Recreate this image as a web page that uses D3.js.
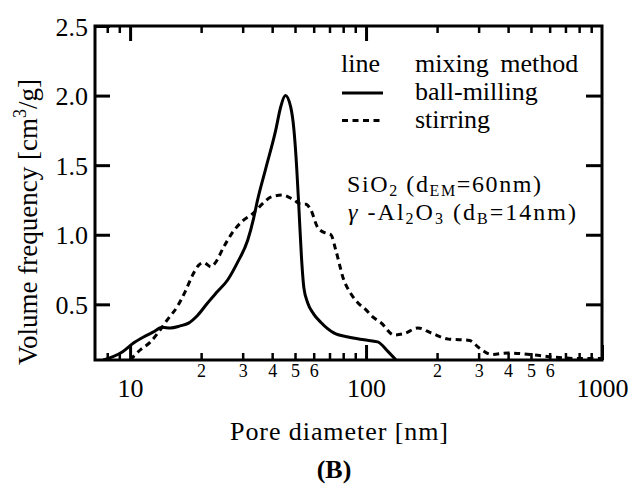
<!DOCTYPE html>
<html>
<head>
<meta charset="utf-8">
<script src="https://cdn.jsdelivr.net/npm/d3@7"></script>
<style>
  html, body { margin: 0; padding: 0; background: #fff; }
  svg { display: block; }
  text { font-family: "Liberation Serif", "Times New Roman", serif; fill: #000; }
</style>
</head>
<body>
<div id="chart"></div>
<script>
// ---- data ----
const ballMilling = [
  [7.7,0.10],[9.3,0.16],[10.3,0.22],[11.4,0.265],[12.5,0.30],[13.7,0.335],[14.8,0.33],
  [16.3,0.345],[17.7,0.365],[19.3,0.42],[21.3,0.51],[23.4,0.59],[25.9,0.675],[28.5,0.80],
  [31.5,0.96],[33.4,1.12],[34.7,1.25],[37.5,1.47],[41.4,1.75],[43.5,1.92],[45.5,2.0],
  [47.9,1.92],[49.5,1.75],[50.4,1.58],[51.9,1.20],[53.2,0.85],[54.5,0.62],[56.6,0.51],
  [60,0.43],[64.4,0.37],[73,0.295],[84,0.265],[98,0.245],[112,0.23],[124,0.16],[134,0.10]
];
const stirring = [
  [10,0.10],[11,0.17],[12.2,0.23],[13.2,0.30],[14.4,0.39],[15.8,0.48],[17.1,0.59],
  [18.4,0.71],[19.5,0.78],[20.5,0.80],[22,0.77],[23,0.80],[24.9,0.91],[27,1.01],[30,1.10],
  [33,1.15],[36.8,1.23],[39.4,1.27],[44.4,1.285],[49.4,1.25],[53,1.22],[55.6,1.22],
  [58.3,1.18],[62.5,1.05],[68,1.01],[71,1.0],[74.4,0.89],[80.5,0.675],[86,0.58],
  [92.5,0.51],[100,0.46],[105,0.42],[116,0.366],[131.5,0.28],[145,0.29],[166,0.33],
  [189,0.294],[223,0.25],[254,0.245],[275,0.24],[300,0.19],[340,0.14],[400,0.15],
  [520,0.136],[630,0.12],[820,0.11],[1000,0.11]
];
const xMajorTicks = [10, 100, 1000];
const xMinorTicks = [8, 9, 20, 30, 40, 50, 60, 70, 80, 90, 200, 300, 400, 500, 600, 700, 800, 900];
const xMinorLabelled = [2, 3, 4, 5, 6];
const yTicks = [0.5, 1.0, 1.5, 2.0, 2.5];
const legendItems = [
  { name: "ball-milling", dash: null },
  { name: "stirring", dash: "6,4.5" }
];

// ---- layout ----
const W = 638, H = 488;
const L = 95, T = 26, R = 602, B = 360;

const svg = d3.select("#chart").append("svg").attr("width", W).attr("height", H)
  .attr("font-family", "Liberation Serif");

const x = d3.scaleLog().domain([7.1, 1000]).range([L, R]);
const y = d3.scaleLinear().domain([0.1, 2.5]).range([B, T]);

svg.append("clipPath").attr("id", "clip")
  .append("rect").attr("x", L).attr("y", T).attr("width", R - L).attr("height", B - T);

function styleAxis(g, sw) {
  g.attr("font-family", "Liberation Serif");
  g.select(".domain").remove();
  g.selectAll(".tick line").attr("stroke", "#000").attr("stroke-width", sw);
}

// bottom major
const bMaj = svg.append("g").attr("transform", `translate(0,${B})`)
  .call(d3.axisBottom(x).tickValues(xMajorTicks).tickSize(-15).tickFormat(d3.format("d")));
styleAxis(bMaj, 3);
bMaj.selectAll("text").attr("dy", null).attr("y", 37).attr("font-size", 26);

// bottom minor
const bMin = svg.append("g").attr("transform", `translate(0,${B})`)
  .call(d3.axisBottom(x).tickValues(xMinorTicks).tickSize(-7)
    .tickFormat(d => {
      const m = Math.round(d / Math.pow(10, Math.floor(Math.log10(d) + 1e-9)));
      return xMinorLabelled.includes(m) ? String(m) : "";
    }));
styleAxis(bMin, 2.5);
bMin.selectAll("text").attr("dy", null).attr("y", 17).attr("font-size", 18);

// top axes
const tMaj = svg.append("g").attr("transform", `translate(0,${T})`)
  .call(d3.axisTop(x).tickValues(xMajorTicks.slice(0, 2)).tickSize(-15).tickFormat(""));
styleAxis(tMaj, 3);
const tMin = svg.append("g").attr("transform", `translate(0,${T})`)
  .call(d3.axisTop(x).tickValues(xMinorTicks).tickSize(-7).tickFormat(""));
styleAxis(tMin, 2.5);

// left axis
const lAx = svg.append("g").attr("transform", `translate(${L},0)`)
  .call(d3.axisLeft(y).tickValues(yTicks).tickSize(-15).tickPadding(7).tickFormat(d3.format(".1f")));
styleAxis(lAx, 3);
lAx.selectAll("text").attr("font-size", 26).attr("dy", "0.35em");

// right axis
const rAx = svg.append("g").attr("transform", `translate(${R},0)`)
  .call(d3.axisRight(y).tickValues(yTicks.slice(0, 4)).tickSize(-16).tickFormat(""));
styleAxis(rAx, 3);

// frame
svg.append("rect").attr("x", L).attr("y", T).attr("width", R - L).attr("height", B - T)
  .attr("fill", "none").attr("stroke", "#000").attr("stroke-width", 3);

// curves
const line = d3.line().x(d => x(d[0])).y(d => y(d[1])).curve(d3.curveMonotoneX);
const plot = svg.append("g").attr("clip-path", "url(#clip)");
plot.append("path").datum(ballMilling).attr("d", line)
  .attr("fill", "none").attr("stroke", "#000").attr("stroke-width", 3).attr("stroke-linejoin", "round");
plot.append("path").datum(stirring).attr("d", line)
  .attr("fill", "none").attr("stroke", "#000").attr("stroke-width", 3)
  .attr("stroke-dasharray", legendItems[1].dash);

// legend
const lg = svg.append("g");
lg.append("text").attr("x", 341).attr("y", 72).attr("font-size", 26).text("line");
lg.append("text").attr("x", 415).attr("y", 72).attr("font-size", 26).attr("word-spacing", 5).text("mixing method");
legendItems.forEach((it, i) => {
  const yy = 93 + i * 27.5;
  lg.append("line").attr("x1", 342).attr("x2", 383).attr("y1", yy).attr("y2", yy)
    .attr("stroke", "#000").attr("stroke-width", 3)
    .attr("stroke-dasharray", it.dash);
  lg.append("text").attr("x", 415).attr("y", 100 + i * 28).attr("font-size", 26).text(it.name);
});

// annotation
const a1 = svg.append("text").attr("x", 347).attr("y", 192).attr("font-size", 24)
  .attr("textLength", 194).attr("lengthAdjust", "spacing");
a1.append("tspan").text("SiO");
a1.append("tspan").attr("font-size", 16).attr("dy", 4).text("2");
a1.append("tspan").attr("dy", -4).text(" (d");
a1.append("tspan").attr("font-size", 16).attr("dy", 4).text("EM");
a1.append("tspan").attr("dy", -4).text("=60nm)");

const a2 = svg.append("text").attr("x", 348).attr("y", 220).attr("font-size", 24)
  .attr("textLength", 228).attr("lengthAdjust", "spacing");
a2.append("tspan").attr("font-style", "italic").text("γ");
a2.append("tspan").text(" -Al");
a2.append("tspan").attr("font-size", 16).attr("dy", 4).text("2");
a2.append("tspan").attr("dy", -4).text("O");
a2.append("tspan").attr("font-size", 16).attr("dy", 4).text("3");
a2.append("tspan").attr("dy", -4).text(" (d");
a2.append("tspan").attr("font-size", 16).attr("dy", 4).text("B");
a2.append("tspan").attr("dy", -4).text("=14nm)");

// axis titles
svg.append("text").attr("x", 230).attr("y", 440).attr("font-size", 26)
  .attr("textLength", 218).attr("lengthAdjust", "spacing")
  .text("Pore  diameter [nm]");

const yl = svg.append("text").attr("transform", "translate(37,365) rotate(-90)")
  .attr("font-size", 27);
yl.append("tspan").text("Volume  frequency [cm");
yl.append("tspan").attr("font-size", 18).attr("dy", -11).text("3");
yl.append("tspan").attr("dy", 11).text("/g]");

svg.append("text").attr("x", 334).attr("y", 478).attr("font-size", 26)
  .attr("font-weight", "bold").attr("text-anchor", "middle").text("(B)");
</script>
</body>
</html>
